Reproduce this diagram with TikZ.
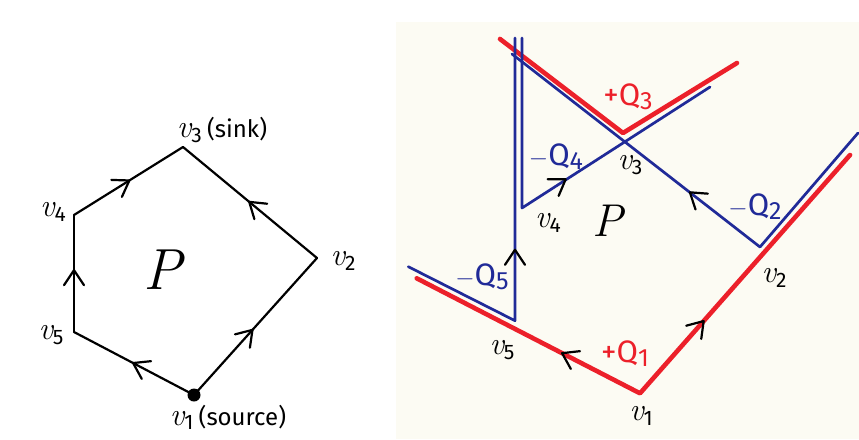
\documentclass[tikz,border=0pt]{standalone}
\usepackage{fontspec}
\setsansfont{Fira Sans}
\usetikzlibrary{decorations.markings}
\definecolor{cream}{RGB}{252,251,243}
\definecolor{qred}{RGB}{236,32,42}
\definecolor{qblue}{RGB}{32,42,152}
\newcommand\qsub[1]{\raisebox{-0.25ex}{\fontsize{25}{28}\selectfont #1}}
\newcommand\vsub[1]{\raisebox{-0.3ex}{\fontsize{21}{24}\selectfont\sffamily #1}}
\newcommand\vv{{\itshape v}}
\tikzset{
  chevron/.style={black,line width=2.2pt,line cap=round,line join=round},
  edge/.style={black,line width=2.2pt,line cap=round},
  redray/.style={qred,line width=4.6pt,line cap=round,line join=round},
  blueray/.style={qblue,line width=2.7pt,line cap=round,line join=round},
  midarrow/.style={postaction={decorate},decoration={markings,mark=at position #1 with {\draw[chevron] (-14pt,-10pt) -- (1pt,0pt) -- (-14pt,10pt);}}},
  vlab/.style={font=\fontsize{32}{36}\selectfont,inner sep=0pt},
  qlab/.style={font=\sffamily\fontsize{31}{36}\selectfont,inner sep=0pt},
  plab/.style={font=\itshape\fontsize{58}{64}\selectfont,inner sep=0pt},
}
\begin{document}
\begin{tikzpicture}[x=1pt,y=-1pt]
\useasboundingbox (0,0) rectangle (859,439);
\fill[white] (0,0) rectangle (859,439);
\fill[cream] (396,22) rectangle (859,439);

% ---------- left panel ----------
\coordinate (La) at (194,395);
\coordinate (Lb) at (317,258);
\coordinate (Lc) at (183,147);
\coordinate (Ld) at (74,215);
\coordinate (Le) at (74,332);
\draw[edge,midarrow=.47] (La) -- (Lb);
\draw[edge,midarrow=.5] (Lb) -- (Lc);
\draw[edge,midarrow=.5] (Ld) -- (Lc);
\draw[edge,midarrow=.52] (Le) -- (Ld);
\draw[edge,midarrow=.5] (La) -- (Le);
\fill[black] (La) circle (6.5pt);
\node[vlab] (Llc) at (222,130) {\vv\vsub{3}\,{\sffamily\fontsize{24}{28}\selectfont(sink)}};
\node[vlab] (Lld) at (53,212) {\vv\vsub{4}};
\node[vlab] (Llb) at (343,261) {\vv\vsub{2}};
\node[vlab] (Lle) at (51,335) {\vv\vsub{5}};
\node[vlab] (Lla) at (228,417) {\vv\vsub{1}\,{\sffamily\fontsize{24}{28}\selectfont(source)}};
\node[plab] (LP) at (163,270) {P};

% ---------- right panel ----------
\coordinate (ra) at (640,393.3);
\coordinate (rb) at (760,247);
\coordinate (rc) at (624,141);
\coordinate (rd) at (522,208);
\coordinate (re) at (515,320.7);
\coordinate (rdb) at (515,208);
% +Q1
\coordinate (q1l) at (416.7,278.3);
\coordinate (q1r) at (850,155);
\draw[redray] (q1l) -- (ra) -- (q1r);
% +Q3
\coordinate (q3a) at (623,133);
\coordinate (q3l) at (500,39);
\coordinate (q3r) at (737,63);
\draw[redray] (q3l) -- (q3a) -- (q3r);
% -Q5
\coordinate (q5l) at (408.3,266.7);
\coordinate (q5u) at (515,38);
\draw[blueray] (q5l) -- (re) -- (q5u);
% -Q4
\coordinate (q4u) at (522,38);
\coordinate (q4r) at (710,87);
\draw[blueray] (q4u) -- (rd) -- (q4r);
% -Q2
\coordinate (q2l) at (512,54);
\coordinate (q2r) at (858,133);
\draw[blueray] (q2l) -- (rb) -- (q2r);
% edge arrows
\path[midarrow=.62] (re) -- (rdb);
\path[midarrow=.42] (rd) -- (rc);
\path[midarrow=.51] (rb) -- (rc);
\path[midarrow=.345] (ra) -- (q1l);
\path[midarrow=.3] (ra) -- (q1r);

\node[qlab,text=qred] (lq3) at (628,97) {+Q\qsub{3}};
\node[qlab,text=qblue] (lq4) at (556,157) {$-$Q\qsub{4}};
\node[qlab,text=qblue] (lq2) at (755,207) {$-$Q\qsub{2}};
\node[qlab,text=qblue] (lq5) at (482,277) {$-$Q\qsub{5}};
\node[qlab,text=qred] (lq1) at (625,354) {+Q\qsub{1}};
\node[vlab] (rlc) at (630,165) {\vv\vsub{3}};
\node[vlab] (rld) at (548,223) {\vv\vsub{4}};
\node[vlab] (rlb) at (774,278) {\vv\vsub{2}};
\node[vlab] (rle) at (502,350) {\vv\vsub{5}};
\node[vlab] (rla) at (641,416) {\vv\vsub{1}};
\node[plab,font=\itshape\fontsize{46}{52}\selectfont] (rP) at (608,221) {P};
\end{tikzpicture}
\end{document}
